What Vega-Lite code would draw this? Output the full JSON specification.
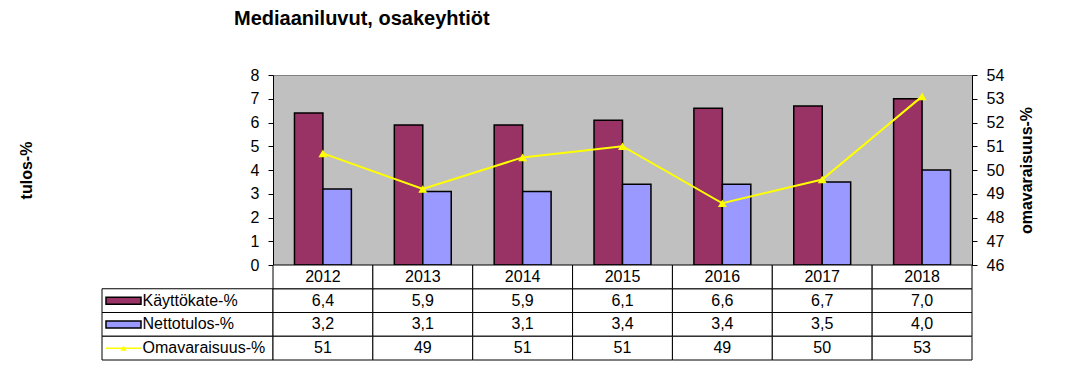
{
  "$schema": "https://vega.github.io/schema/vega-lite/v6.json",
  "padding": {"left": 17, "top": 8, "right": 5, "bottom": 5},
  "background": "white",
  "config": {
    "view": {"stroke": null},
    "font": "Liberation Sans",
    "locale": {"number": {"decimal": ",", "thousands": "\u00a0", "grouping": [3], "currency": ["", "\u00a0€"]}},
    "axis": {"labelFont": "Liberation Sans", "titleFont": "Liberation Sans", "labelColor": "black", "titleColor": "black", "domainColor": "black", "tickColor": "black", "labelFontSize": 16, "titleFontSize": 16, "titleFontWeight": "bold", "grid": false, "tickSize": 5, "labelPadding": 9},
    "text": {"font": "Liberation Sans", "fontSize": 16, "color": "black"}
  },
  "title": {"text": "Mediaaniluvut, osakeyhtiöt", "anchor": "start", "frame": "group", "font": "Liberation Sans", "fontSize": 20, "fontWeight": "bold", "color": "black", "dx": 132, "offset": 38},
  "datasets": {
    "d": [
      {"vuosi": "2012", "Käyttökate-%": 6.4, "Nettotulos-%": 3.2, "Omavaraisuus-%": 50.7},
      {"vuosi": "2013", "Käyttökate-%": 5.9, "Nettotulos-%": 3.1, "Omavaraisuus-%": 49.2},
      {"vuosi": "2014", "Käyttökate-%": 5.9, "Nettotulos-%": 3.1, "Omavaraisuus-%": 50.53},
      {"vuosi": "2015", "Käyttökate-%": 6.1, "Nettotulos-%": 3.4, "Omavaraisuus-%": 51.0},
      {"vuosi": "2016", "Käyttökate-%": 6.6, "Nettotulos-%": 3.4, "Omavaraisuus-%": 48.6},
      {"vuosi": "2017", "Käyttökate-%": 6.7, "Nettotulos-%": 3.5, "Omavaraisuus-%": 49.6},
      {"vuosi": "2018", "Käyttökate-%": 7.0, "Nettotulos-%": 4.0, "Omavaraisuus-%": 53.1}
    ],
    "sarjat": [
      {"sarja": "Käyttökate-%"},
      {"sarja": "Nettotulos-%"},
      {"sarja": "Omavaraisuus-%"}
    ]
  },
  "columns": 2,
  "spacing": 0,
  "bounds": "flush",
  "concat": [
    {
      "width": 171,
      "height": 190,
      "data": {"values": []},
      "mark": "text",
      "encoding": {}
    },
    {
      "width": 699,
      "height": 190,
      "view": {"fill": "#C0C0C0", "stroke": "#808080"},
      "data": {"name": "d"},
      "layer": [
        {
          "transform": [{"fold": ["Käyttökate-%", "Nettotulos-%"], "as": ["sarja", "arvo"]}],
          "mark": {"type": "bar", "stroke": "black", "strokeWidth": 1.5},
          "encoding": {
            "x": {"field": "vuosi", "type": "nominal", "scale": {"paddingInner": 0.43, "paddingOuter": 0.215}, "axis": null},
            "xOffset": {"field": "sarja", "type": "nominal", "scale": {"domain": ["Käyttökate-%", "Nettotulos-%"], "paddingInner": 0, "paddingOuter": 0}},
            "y": {"field": "arvo", "type": "quantitative", "scale": {"domain": [0, 8], "nice": false}, "axis": {"title": "tulos-%", "tickCount": 8, "titlePadding": 216}},
            "color": {"field": "sarja", "type": "nominal", "scale": {"domain": ["Käyttökate-%", "Nettotulos-%"], "range": ["#993366", "#9999FF"]}, "legend": null}
          }
        },
        {
          "mark": {"type": "line", "color": "#FFFF00", "strokeWidth": 2, "point": {"shape": "triangle-up", "filled": true, "color": "#FFFF00", "size": 80, "opacity": 1}},
          "encoding": {
            "x": {"field": "vuosi", "type": "nominal"},
            "y": {"field": "Omavaraisuus-%", "type": "quantitative", "scale": {"domain": [46, 54], "nice": false, "zero": false}, "axis": {"orient": "right", "title": "omavaraisuus-%", "tickCount": 8, "titlePadding": 15, "titleAngle": 270, "titleBaseline": "top"}}
          }
        }
      ],
      "resolve": {"scale": {"y": "independent"}}
    },
    {
      "width": 171,
      "height": 95,
      "data": {"name": "sarjat"},
      "encoding": {
        "y": {"field": "sarja", "type": "nominal", "scale": {"domain": ["vuosi", "Käyttökate-%", "Nettotulos-%", "Omavaraisuus-%"], "paddingInner": 0, "paddingOuter": 0}, "axis": null}
      },
      "layer": [
        {"mark": {"type": "rect", "fill": "white", "stroke": "black", "strokeWidth": 1}},
        {
          "transform": [{"filter": {"field": "sarja", "oneOf": ["Käyttökate-%", "Nettotulos-%"]}}],
          "mark": {"type": "point", "shape": "M-1,-0.2H1V0.2H-1Z", "filled": true, "stroke": "black", "strokeWidth": 1.5, "size": 1225, "xOffset": -64, "opacity": 1},
          "encoding": {"fill": {"field": "sarja", "type": "nominal", "scale": {"domain": ["Käyttökate-%", "Nettotulos-%"], "range": ["#993366", "#9999FF"]}, "legend": null}}
        },
        {
          "transform": [{"filter": {"field": "sarja", "equal": "Omavaraisuus-%"}}],
          "mark": {"type": "point", "shape": "M-1,0H1", "filled": false, "stroke": "#FFFF00", "strokeWidth": 1.5, "size": 1225, "xOffset": -64, "opacity": 1},
          "encoding": {}
        },
        {
          "transform": [{"filter": {"field": "sarja", "equal": "Omavaraisuus-%"}}],
          "mark": {"type": "point", "shape": "triangle-up", "filled": true, "color": "#FFFF00", "size": 40, "xOffset": -64, "opacity": 1},
          "encoding": {}
        },
        {
          "mark": {"type": "text", "align": "left", "dx": -45},
          "encoding": {"text": {"field": "sarja"}}
        }
      ]
    },
    {
      "width": 699,
      "height": 95,
      "data": {"name": "d"},
      "encoding": {
        "x": {"field": "vuosi", "type": "nominal", "scale": {"paddingInner": 0, "paddingOuter": 0}, "axis": null}
      },
      "layer": [
        {
          "transform": [{"fold": ["Käyttökate-%", "Nettotulos-%", "Omavaraisuus-%"], "as": ["sarja", "arvo"]}],
          "mark": {"type": "rect", "fill": "white", "stroke": "black", "strokeWidth": 1},
          "encoding": {"y": {"field": "sarja", "type": "nominal", "scale": {"domain": ["vuosi", "Käyttökate-%", "Nettotulos-%", "Omavaraisuus-%"], "paddingInner": 0, "paddingOuter": 0}, "axis": null}}
        },
        {
          "mark": {"type": "rect", "fill": "white", "stroke": "black", "strokeWidth": 1},
          "encoding": {"y": {"datum": "vuosi", "type": "nominal"}}
        },
        {
          "mark": {"type": "text"},
          "encoding": {"y": {"datum": "vuosi", "type": "nominal"}, "text": {"field": "vuosi"}}
        },
        {
          "transform": [{"fold": ["Käyttökate-%", "Nettotulos-%"], "as": ["sarja", "arvo"]}],
          "mark": {"type": "text"},
          "encoding": {"y": {"field": "sarja", "type": "nominal"}, "text": {"field": "arvo", "type": "quantitative", "format": ".1f"}}
        },
        {
          "transform": [{"fold": ["Omavaraisuus-%"], "as": ["sarja", "arvo"]}],
          "mark": {"type": "text"},
          "encoding": {"y": {"field": "sarja", "type": "nominal"}, "text": {"field": "arvo", "type": "quantitative", "format": ".0f"}}
        }
      ]
    }
  ]
}
